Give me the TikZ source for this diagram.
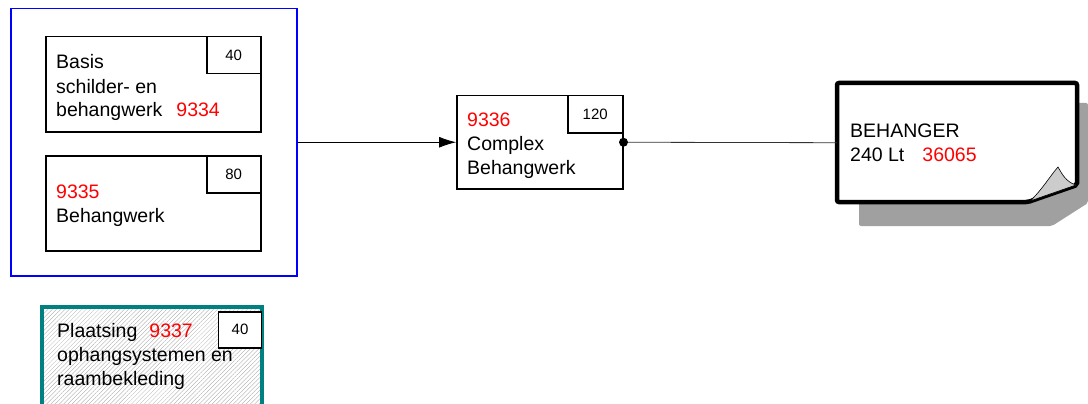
\documentclass[tikz,border=0pt]{standalone}
\usepackage{fontspec}
\setmainfont{Liberation Sans}
\usetikzlibrary{arrows.meta,patterns.meta}
\definecolor{tealrand}{RGB}{0,128,128}
\definecolor{schaduw}{RGB}{160,160,160}
\definecolor{omslag}{RGB}{204,204,204}
\tikzset{
  taak/.style={draw, line width=1.5pt, minimum width=215pt, minimum height=95pt, anchor=north west, inner sep=0pt},
  uren/.style={draw, fill=white, line width=1.5pt, minimum width=54pt, minimum height=37pt, anchor=north east, inner sep=0pt, font=\fontsize{15}{17}\selectfont},
  tekst/.style={anchor=base west, align=left, inner sep=0pt, font=\fontsize{19.5}{24}\selectfont},
}
\newcommand{\nr}[1]{\textcolor{red}{#1}}
\begin{document}
\begin{tikzpicture}[x=1pt, y=-1pt, >={Latex[length=17pt,width=11pt]}]
\useasboundingbox (0,0) rectangle (1088,404);
% groep links
\node[draw=blue, line width=1.5pt, minimum width=286pt, minimum height=267pt, anchor=north west, inner sep=0pt] (grp) at (10,8) {};
\node[taak] (basis) at (45,36) {};
\node[uren] (basisU) at (basis.north east) {40};
\node[tekst] (basisT) at (56,117) {Basis\\schilder- en\\behangwerk\hspace{14pt}\nr{9334}};
\node[taak] (behang) at (45,155) {};
\node[uren] (behangU) at (behang.north east) {80};
\node[tekst] (behangT) at (56,222) {\nr{9335}\\Behangwerk};
% complex
\node[taak, minimum width=166pt, minimum height=93pt] (cplx) at (456,95) {};
\node[uren, minimum width=55pt] (cplxU) at (cplx.north east) {120};
\node[tekst] (cplxT) at (467,174) {\nr{9336}\\Complex\\Behangwerk};
% notitie
\node[minimum width=240pt, minimum height=119pt, anchor=north west, inner sep=0pt] (note) at (837,83) {};
\fill[schaduw, rounded corners=2pt] (859,103) -- (1088,103) -- (1088,203) -- (1052,226) -- (859,226) -- cycle;
\draw[line width=4.5pt, fill=white, rounded corners=2pt] (837,83) -- (1077,83) -- (1077,185) -- (1028,202) -- (837,202) -- cycle;
\draw[fill=omslag, line width=0.6pt] (1030,201) .. controls (1042,190) and (1050,176) .. (1058,167) .. controls (1062,174) and (1066,182) .. (1076,185) -- cycle;
\node[tekst] (noteT) at (850,161) {BEHANGER\\240 Lt\hspace{18pt}\nr{36065}};
% verbindingen
\draw[->, line width=0.8pt] (grp.east) -- (cplx.west);
\draw[line width=0.8pt, black!80] (cplx.east) -- (note.west);
\fill (cplx.east) circle (4.5pt);
% plaatsing
\node[draw=tealrand, line width=3.5pt, pattern={Lines[angle=45, distance=3pt, line width=0.3pt]}, pattern color=gray!70, minimum width=220pt, minimum height=110pt, anchor=north west, inner sep=0pt] (plaats) at (42,307) {};
\node[uren, minimum width=43pt, minimum height=36pt] (plaatsU) at ([yshift=-4pt]plaats.north east) {40};
\node[tekst] (plaatsT) at (57,385) {Plaatsing\hspace{12pt}\nr{9337}\\ophangsystemen en\\raambekleding};
\end{tikzpicture}
\end{document}
